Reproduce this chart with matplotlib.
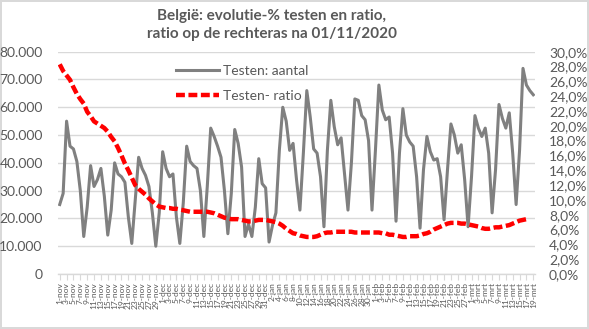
import numpy as np
import pandas as pd
import matplotlib
matplotlib.use("Agg")
import matplotlib.pyplot as plt
from matplotlib.ticker import FuncFormatter, FixedLocator

# ------------------------------------------------------
# data, dag 0 = 1 nov 2020
# ------------------------------------------------------
startdatum = "2020-11-01"
maanden = {11: "nov", 12: "dec", 1: "jan", 2: "feb", 3: "mrt"}

testen = [
    25000, 29000, 55000, 46000, 45000, 40500, 30000, 13500, 24000, 39000,
    31500, 34000, 38000, 28000, 14000, 23000, 40000, 36000, 35000, 33000,
    20500, 11000, 26500, 42000, 38000, 35500, 31500, 22000, 10000, 22000,
    44000, 38000, 35000, 36000, 20500, 11000, 25500, 46000, 40500, 39000,
    38000, 30000, 13500, 31500, 52500, 49500, 46000, 42000, 30000, 14500,
    29000, 52000, 47000, 38500, 13500, 18000, 13500, 24000, 41500, 32500,
    31000, 11500, 17500, 22000, 44500, 60000, 55000, 44500, 47000, 34000,
    23000, 43500, 66000, 56500, 45000, 43500, 35000, 17000, 44500, 62500,
    53000, 46500, 49000, 36000, 23000, 40000, 63000, 62500, 57000, 55500,
    48000, 23000, 44500, 68000, 59000, 55500, 56500, 43500, 19000, 43500,
    59500, 50000, 47500, 46000, 35000, 16500, 37500, 49500, 44000, 41000,
    41500, 35000, 19500, 37500, 54000, 50000, 43500, 46500, 34000, 17000,
    35000, 57000, 52500, 49500, 52500, 43500, 22000, 37500, 61000, 56000,
    52500, 58000, 43500, 25000, 44500, 74000, 68000, 66000, 64500,
]

ratio = [
    28.3, 27.4, 26.8, 26.2, 25.2, 24.3, 23.6, 23.0, 21.9, 21.3,
    20.6, 20.3, 20.0, 19.7, 19.2, 18.5, 17.9, 17.0, 16.0, 14.9,
    14.0, 13.0, 12.0, 11.5, 11.1, 10.7, 10.2, 9.8, 9.4, 9.1,
    9.0, 8.9, 8.9, 8.8, 8.8, 8.7, 8.6, 8.5, 8.4, 8.4,
    8.4, 8.4, 8.4, 8.4, 8.3, 8.2, 8.0, 7.8, 7.6, 7.5,
    7.4, 7.4, 7.4, 7.3, 7.2, 7.1, 7.1, 7.2, 7.3, 7.3,
    7.3, 7.2, 7.1, 7.0, 6.8, 6.5, 6.1, 5.8, 5.5, 5.4,
    5.2, 5.1, 5.0, 5.0, 5.0, 5.1, 5.3, 5.5, 5.6, 5.6,
    5.7, 5.7, 5.7, 5.7, 5.7, 5.7, 5.6, 5.6, 5.6, 5.6,
    5.6, 5.6, 5.6, 5.6, 5.5, 5.5, 5.3, 5.3, 5.2, 5.1,
    5.0, 5.0, 5.1, 5.1, 5.1, 5.2, 5.4, 5.5, 5.7, 6.0,
    6.2, 6.4, 6.6, 6.8, 6.9, 6.9, 6.9, 6.8, 6.8, 6.7,
    6.6, 6.5, 6.4, 6.2, 6.1, 6.1, 6.2, 6.3, 6.3, 6.4,
    6.5, 6.6, 6.8, 7.0, 7.2, 7.3, 7.4, np.nan, np.nan,
]

# ------------------------------------------------------
# opmaak
# ------------------------------------------------------
plt.rcParams["font.family"] = ["Lato", "DejaVu Sans"]
tekstkleur = "#595959"
rasterkleur = "#D9D9D9"

datums = pd.date_range(startdatum, periods=len(testen), freq="D")
labels = [f"{d.day}-{maanden[d.month]}" for d in datums]
x = np.arange(len(testen))

fig = plt.figure(figsize=(5.89, 3.29), dpi=100)
fig.patch.set_edgecolor(rasterkleur)
fig.patch.set_linewidth(1.5)

ax = fig.add_axes([58 / 589, 1 - 274 / 329, (535 - 58) / 589, (274 - 51.7) / 329])
ax2 = ax.twinx()

lijn_testen, = ax.plot(x, testen, color="#808080", linewidth=2.2,
                       label="Testen: aantal", solid_joinstyle="round")
lijn_ratio, = ax2.plot(x, np.array(ratio) / 100, color="#FF0000", linewidth=3.2,
                       linestyle=(0, (2.0, 0.8)), label="Testen- ratio")

ax.set_xlim(-0.5, len(testen) - 0.5)
ax.set_ylim(0, 80000)
ax2.set_ylim(0, 0.30)

ax.set_yticks(np.arange(0, 80001, 10000))
ax.yaxis.set_major_formatter(FuncFormatter(lambda v, p: f"{int(v):,}".replace(",", ".")))
ax2.set_yticks(np.arange(0, 0.3001, 0.02))
ax2.yaxis.set_major_formatter(FuncFormatter(lambda v, p: f"{v * 100:.1f}%".replace(".", ",")))

ax.grid(axis="y", color=rasterkleur, linewidth=1)
ax.set_axisbelow(True)

for a in (ax, ax2):
    for s in ("top", "left", "right"):
        a.spines[s].set_visible(False)
ax2.spines["bottom"].set_visible(False)
ax.spines["bottom"].set_color(rasterkleur)
ax.spines["bottom"].set_linewidth(1)

ax.tick_params(axis="y", length=0, pad=11, labelsize=10, labelcolor=tekstkleur)
ax2.tick_params(axis="y", length=0, pad=10, labelsize=10, labelcolor=tekstkleur)

# datumlabels om de 2 dagen, zoals in Excel
ax.xaxis.set_major_locator(FixedLocator(x[::2]))
ax.set_xticklabels(labels[::2], rotation=90, fontsize=6, color=tekstkleur)
ax.tick_params(axis="x", length=4, color=rasterkleur, pad=2)

ax2.legend(handles=[lijn_testen, lijn_ratio], loc="upper left",
           bbox_to_anchor=(176 / 589, 1 - 65 / 329), bbox_transform=fig.transFigure,
           frameon=False, fontsize=10, labelcolor=tekstkleur,
           handlelength=3.1, handletextpad=0.3, labelspacing=0.95,
           borderpad=0, borderaxespad=0)

fig.text(272 / 589, 1 - 25 / 329,
         "België: evolutie-% testen en ratio,\nratio op de rechteras na 01/11/2020",
         ha="center", va="center", fontsize=11, fontweight="bold",
         color=tekstkleur, linespacing=1.3)

fig.savefig("out.png", dpi=100, edgecolor=fig.get_edgecolor())
